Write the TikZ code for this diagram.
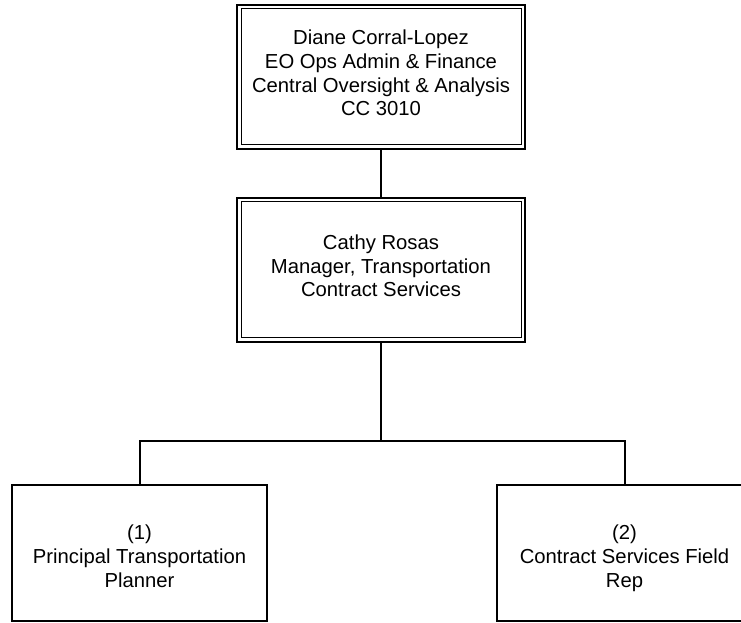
\documentclass[tikz,border=0pt]{standalone}
\usepackage{fontspec}
\setmainfont{Liberation Sans}
\usetikzlibrary{positioning,calc}

\begin{document}
\begin{tikzpicture}[
  x=0.75pt, y=-0.75pt,
  unit/.style={draw, line width=1.5pt, inner sep=0pt, outer sep=0pt,
               minimum width=191.25pt, minimum height=102pt, align=center,
               text height=51pt, text depth=0pt,
               font=\fontsize{15.2}{17.8}\selectfont},
  dbox/.style={unit, minimum width=216pt, minimum height=108pt,
               text height={}, text depth=6pt},
  inner line/.style={line width=0.75pt},
  link/.style={line width=1.5pt}
]
  \useasboundingbox (0,0) rectangle (741,623);
  \clip (0,0) rectangle (741,623);

  \node[dbox] (exec) at (381,77)
    {Diane Corral-Lopez\\EO Ops Admin \& Finance\\Central Oversight \& Analysis\\CC 3010};
  \node[dbox] (mgr) at (381,269.7)
    {Cathy Rosas\\Manager, Transportation\\Contract Services};
  \node[unit] (planner) at (139.5,553)
    {(1)\\Principal Transportation\\Planner};
  \node[unit, anchor=west] (rep) at (497,553)
    {(2)\\Contract Services Field\\Rep};

  % double frame of the two upper boxes
  \foreach \n in {exec,mgr}
    \draw[inner line] ([shift={(3pt,3pt)}]\n.south west) rectangle ([shift={(-3pt,-3pt)}]\n.north east);

  \coordinate (bus) at (381,441);
  \draw[link] (exec) -- (mgr);
  \draw[link] (mgr) -- (bus);
  \draw[link] (bus) -| (planner);
  \draw[link] (bus) -| (rep);
\end{tikzpicture}
\end{document}
